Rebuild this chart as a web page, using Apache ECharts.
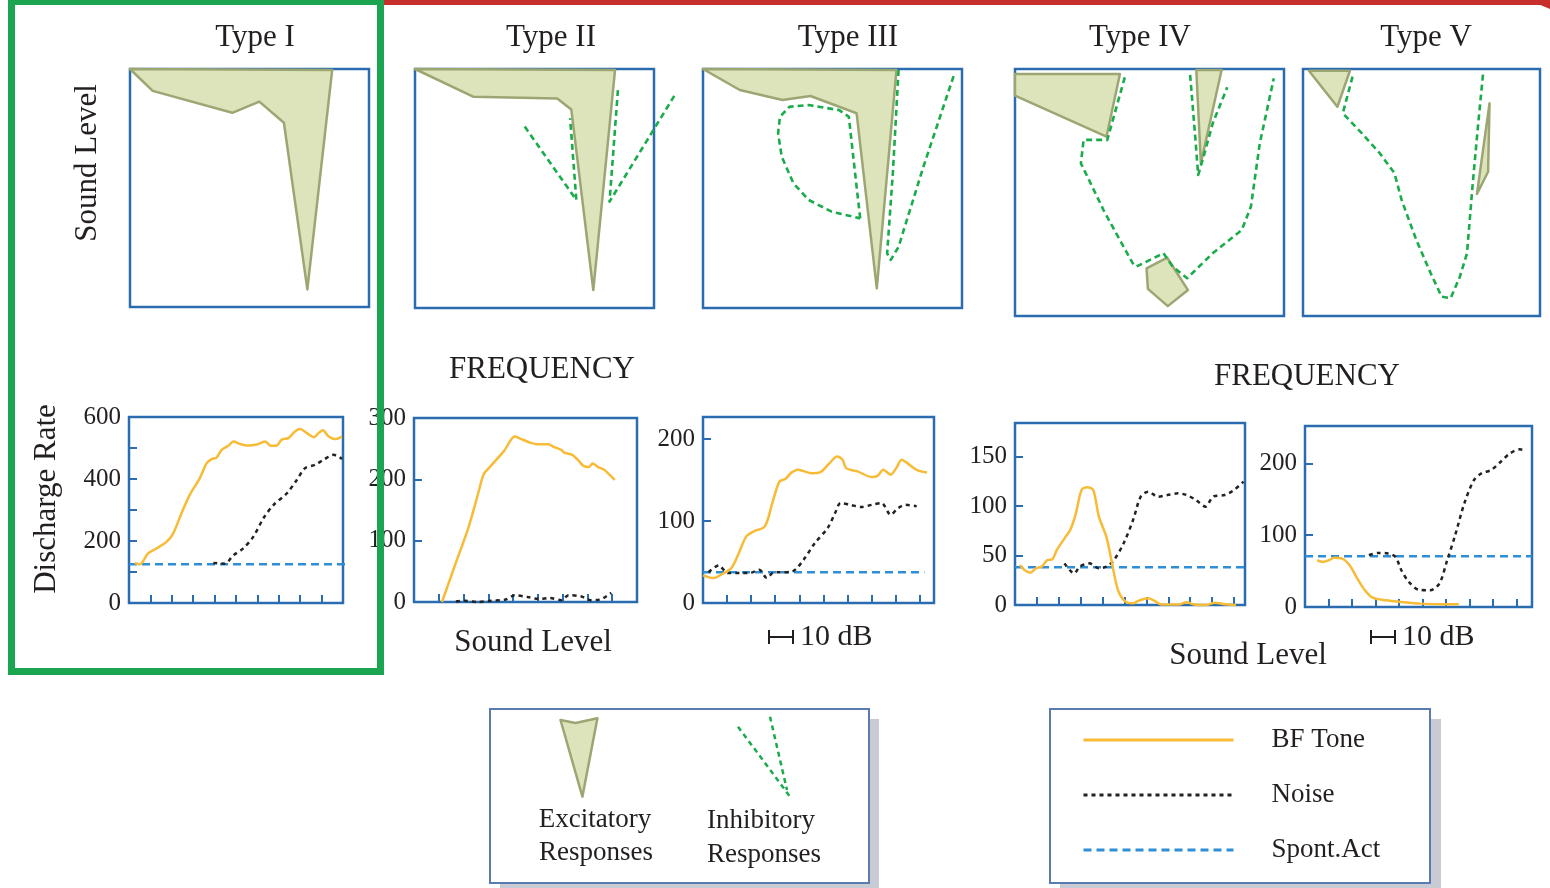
<!DOCTYPE html>
<html>
<head>
<meta charset="utf-8">
<script src="https://cdn.jsdelivr.net/npm/echarts@6/dist/echarts.min.js"></script>
<style>
html,body{margin:0;padding:0;background:#fff;}
#chart{width:1550px;height:888px;}
</style>
</head>
<body>
<div id="chart"></div>
<script>
// ---------- Titles / labels ----------
const typeTitles = ['Type I', 'Type II', 'Type III', 'Type IV', 'Type V'];
const legendNames = ['BF Tone', 'Noise', 'Spont.Act'];

// ---------- Response areas (x: frequency 0-100, y: sound level 0-100) ----------
const exc1 = [[0,100],[9.5,90.8],[42.8,81.6],[54.1,86.3],[64.4,77.4],[74.2,7.4],[84.6,99.6]];

const exc2 = [[0,100],[24.3,88.4],[59.5,87.7],[65.4,83.1],[74.6,7.5],[83.7,99.6]];
const inh2a = [[45.9,75.9],[67.5,45.2],[64.9,79.4]];
const inh2b = [[84.9,91.2],[81.4,44.5],[108.7,89.1]];

const exc3 = [[0,100],[14.2,91.2],[30.7,87.0],[41.5,88.7],[59.3,81.5],[67.1,8.2],[74.7,99.6]];
const inh3a = [[60.7,37.5],[59.3,50.8],[57.3,70.3],[56.3,80.0],[52.6,82.8],[40.8,84.9],[33.4,84.2],[29.7,80.0],[29.0,73.1],[30.4,63.3],[34.9,52.2],[40.8,45.2],[49.7,40.3],[60.7,37.5]];
const inh3b = [[75.5,99.6],[73.3,56.4],[71.1,22.9],[72.5,20.1],[75.5,25.6],[85.1,59.1],[96.9,97.5]];

const exc4a = [[0,98],[39,98],[34,72.6],[0,89.2]];
const exc4b = [[67.4,99.6],[76.8,99.6],[69.1,61.8]];
const exc4c = [[48.9,19.3],[56.6,23.6],[64.3,10.5],[56.8,4.0],[49.4,11.0]];
const inh4a = [[40.8,96.6],[34.3,71.3],[25.5,71.3],[24.5,61.8],[27.5,55.1],[32.9,42.9],[38.3,32.1],[43.8,21.3],[45.1,20.0],[55.2,25.4],[58.6,20.0],[64.0,15.3],[73.5,25.4],[84.3,34.8],[87.7,44.3],[91.0,69.9],[96.2,96.2]];
const inh4b = [[65.1,97.6],[66.7,76.6],[68.1,57.1],[70.1,64.5],[73.5,78.0],[78.9,92.6]];

const exc5a = [[2.5,99.3],[19.8,99.3],[14.5,84.7]];
const exc5b = [[78.7,86.1],[78.1,58.4],[73.4,49.4]];
const inh5 = [[20.9,96.9],[16.8,82.1],[24.8,74.0],[32.4,65.9],[38.6,57.8],[41.6,47.0],[47.8,30.8],[53.9,17.3],[58.5,7.8],[62.3,7.2],[66.2,15.9],[69.2,25.4],[71.5,52.3],[73.8,76.6],[76.1,99.3]];

// ---------- Rate-level functions (x: sound level steps, y: discharge rate) ----------
const tone1 = [[0.27,129],[0.5,125],[0.89,160],[1.28,176],[1.75,197],[2.06,224],[2.45,289],[2.84,349],[3.31,403],[3.63,451],[3.86,464],[4.09,469],[4.33,494],[4.64,507],[4.88,521],[5.19,513],[5.58,508],[5.97,511],[6.36,521],[6.63,507],[6.88,507],[7.14,527],[7.45,532],[7.77,554],[8.0,561],[8.31,548],[8.63,535],[8.86,548],[9.06,557],[9.33,537],[9.64,529],[9.95,537]];
const noise1 = [[3.94,129],[4.48,127],[4.88,154],[5.34,176],[5.81,214],[6.28,273],[6.75,316],[7.38,354],[7.84,397],[8.23,435],[8.7,446],[9.09,462],[9.56,478],[9.95,465]];
const spont1 = [[0,125],[10.1,125]];

const tone2 = [[1.13,0],[1.61,55],[2.21,123],[2.63,183],[2.81,208],[3.1,222],[3.63,246],[4.07,270],[4.37,265],[4.75,259],[5.04,257],[5.42,257],[5.64,253],[5.94,248],[6.09,243],[6.39,240],[6.61,232],[6.84,222],[7.06,220],[7.21,226],[7.43,220],[7.66,216],[7.88,208],[8.1,199]];
const noise2 = [[1.69,1],[2.06,2],[2.58,0],[3.1,2],[3.7,4],[4.07,11],[4.6,8],[5.04,5],[5.49,6.5],[5.94,3],[6.24,11],[6.76,9],[7.13,3],[7.51,4],[7.96,15]];

const tone3 = [[0,33.7],[0.42,30.5],[0.8,35.4],[1.18,42.7],[1.49,61],[1.8,81.3],[2.11,87.4],[2.57,93.5],[2.88,122],[3.18,148.4],[3.42,151.2],[3.65,158.5],[3.95,162.6],[4.49,158.5],[4.88,159.8],[5.26,170.7],[5.57,178.9],[5.8,174.8],[5.95,164.6],[6.42,160.6],[7.03,153.7],[7.26,155.3],[7.49,162.6],[7.8,156.5],[8.03,164.6],[8.26,174.8],[8.49,170.7],[8.88,162.6],[9.31,159.3]];
const noise3 = [[0.23,37.4],[0.65,45.9],[1.03,36.6],[1.57,36.6],[1.95,36.6],[2.34,40.7],[2.65,30.5],[2.95,37.4],[3.26,37.4],[3.72,38.6],[4.18,52.8],[4.65,73.2],[5.18,91.5],[5.49,109.8],[5.72,122],[6.11,119.9],[6.57,117.1],[7.03,119.9],[7.42,122],[7.8,107.7],[8.11,115.9],[8.42,119.9],[8.88,117.9]];
const spont3 = [[0,37.4],[9.2,37.4]];

const tone4 = [[0.23,40.4],[0.43,35.4],[0.7,32.7],[0.96,37.1],[1.22,38.8],[1.48,45.5],[1.7,46.2],[1.91,55.6],[2.26,67.4],[2.52,75.8],[2.78,92.7],[3.04,116.3],[3.3,119],[3.57,116.3],[3.83,89.3],[4.17,69.1],[4.43,42.1],[4.7,15.2],[5.04,3.4],[5.39,1.7],[5.65,4.4],[6.09,6.7],[6.35,4.4],[6.7,0.5],[7.48,0.5],[7.83,2.7],[8.17,0.5],[8.7,0],[9.13,2.4],[9.57,0.7],[10.09,0]];
const noise4 = [[2.26,42.1],[2.7,32],[2.96,38.8],[3.39,42.1],[3.83,37.1],[4.17,38.8],[4.52,45.5],[4.96,62.4],[5.39,85.9],[5.74,109.5],[6.09,114.6],[6.52,109.5],[6.96,111.2],[7.44,112.9],[7.83,111.2],[8.26,106.2],[8.7,99.4],[9.04,109.5],[9.57,111.2],[10,116.3],[10.43,124.7]];
const spont4 = [[0,38.1],[10.5,38.1]];

const tone5 = [[0.52,65.1],[0.76,62.8],[1.01,65.1],[1.25,68.4],[1.58,67.4],[1.9,58.1],[2.23,39.5],[2.55,23.3],[2.88,13],[3.45,9.3],[4.1,7],[4.91,4.7],[5.89,3.7],[6.54,3.7]];
const noise5 = [[2.72,72.1],[3.12,75.3],[3.53,74.4],[3.85,69.8],[4.1,51.2],[4.42,34.9],[4.83,24.2],[5.32,23.3],[5.72,32.6],[6.05,65.1],[6.37,97.7],[6.78,144.2],[7.19,176.7],[7.51,186],[7.92,190.7],[8.33,202.3],[8.73,214],[9.14,219.5],[9.3,218.6]];
const spont5 = [[0,70.7],[9.66,70.7]];

// Axis ranges for rate panels
const rateXMax = [10, 9, 9.6, 10.5, 9.66];
const rateYMax = [600, 300, 227, 184, 252];
const rateYInterval = [100, 100, 100, 50, 100];
const rateYLabelStep = [200, 100, 100, 50, 100];

// ---------- Styles ----------
const FONT = '"Liberation Serif", "Times New Roman", serif';
const TXT = '#231f20';
const BOX = '#2b6cb0';
const EXC_FILL = '#dde4bb', EXC_STROKE = '#9ca673';
const INH = '#1aab4b';
const TONE = '#f7bb36', NOISE = '#222222', SPONT = '#2f8fd6';

const topGrids = [
  {left:130, top:69, width:239, height:238},
  {left:415, top:69, width:239, height:239},
  {left:703, top:69, width:259, height:239},
  {left:1015, top:69, width:269, height:247},
  {left:1303, top:69, width:237, height:247}
];
const botGrids = [
  {left:129, top:417, width:214, height:186},
  {left:414, top:418, width:223, height:184},
  {left:703, top:417, width:231, height:186},
  {left:1015, top:423, width:230, height:182},
  {left:1305, top:426, width:227, height:181}
];

const grids = [], xAxes = [], yAxes = [], series = [];
topGrids.concat(botGrids).forEach(g => grids.push(Object.assign({show:true, borderColor:BOX, borderWidth:2.5, backgroundColor:'transparent'}, g)));

for (let i = 0; i < 5; i++) {
  xAxes.push({gridIndex:i, type:'value', min:0, max:100, show:false});
  yAxes.push({gridIndex:i, type:'value', min:0, max:100, show:false});
}
for (let i = 0; i < 5; i++) {
  const gi = 5 + i;
  xAxes.push({gridIndex:gi, type:'value', min:0, max:rateXMax[i], interval:1,
    axisLine:{show:false}, splitLine:{show:false}, axisLabel:{show:false},
    axisTick:{show:true, inside:true, length:8, lineStyle:{color:BOX, width:2}}});
  const step = rateYLabelStep[i];
  yAxes.push({gridIndex:gi, type:'value', min:0, max:rateYMax[i], interval:rateYInterval[i],
    axisLine:{show:false}, splitLine:{show:false},
    axisTick:{show:true, inside:true, length:8, lineStyle:{color:BOX, width:2}},
    axisLabel:{show:true, margin:8, color:TXT, fontFamily:FONT, fontSize:25,
      showMinLabel:true, showMaxLabel:true,
      formatter: v => (Math.abs(v % step) < 1e-6 ? String(v) : '')}});
}

function poly(idx, pts) {
  series.push({type:'custom', xAxisIndex:idx, yAxisIndex:idx, clip:false, silent:true, z:3,
    data:[[0,0]],
    renderItem: function(params, api) {
      return {type:'polygon', shape:{points: pts.map(p => api.coord(p))},
        style:{fill:EXC_FILL, stroke:EXC_STROKE, lineWidth:2.5, lineJoin:'round'}};
    }});
}
function inh(idx, pts) {
  series.push({type:'custom', xAxisIndex:idx, yAxisIndex:idx, clip:false, silent:true, z:4,
    data:[[0,0]],
    renderItem: function(params, api) {
      return {type:'polyline', shape:{points: pts.map(p => api.coord(p))},
        style:{fill:null, stroke:INH, lineWidth:2.6, lineDash:[6,4], lineJoin:'round'}};
    }});
}
function rate(i, name, pts) {
  const gi = 5 + i;
  const st = {
    'BF Tone': {color:TONE, width:2.5, type:'solid'},
    'Noise': {color:NOISE, width:2.5, type:[4,4]},
    'Spont.Act': {color:SPONT, width:2.5, type:[8,5]}
  }[name];
  series.push({type:'line', name:name, xAxisIndex:gi, yAxisIndex:gi, data:pts, symbol:'none', silent:true,
    smooth: name === 'Spont.Act' ? false : 0.3, clip:false, color:st.color, lineStyle:st,
    z: name === 'BF Tone' ? 4 : 3});
}

poly(0, exc1);
poly(1, exc2); inh(1, inh2a); inh(1, inh2b);
poly(2, exc3); inh(2, inh3a); inh(2, inh3b);
poly(3, exc4a); poly(3, exc4b); poly(3, exc4c); inh(3, inh4a); inh(3, inh4b);
poly(4, exc5a); poly(4, exc5b); inh(4, inh5);

rate(0, 'Spont.Act', spont1); rate(0, 'Noise', noise1); rate(0, 'BF Tone', tone1);
rate(1, 'Noise', noise2); rate(1, 'BF Tone', tone2);
rate(2, 'Spont.Act', spont3); rate(2, 'Noise', noise3); rate(2, 'BF Tone', tone3);
rate(3, 'Spont.Act', spont4); rate(3, 'Noise', noise4); rate(3, 'BF Tone', tone4);
rate(4, 'Spont.Act', spont5); rate(4, 'Noise', noise5); rate(4, 'BF Tone', tone5);

function txt(x, y, text, size, opts) {
  return Object.assign({type:'text', x:x, y:y, z:10,
    style:{text:text, font: size + 'px ' + FONT, fill:TXT, textAlign:'center', textVerticalAlign:'middle', align:'center', verticalAlign:'middle'}}, opts || {});
}
function ltxt(x, y, text, size) {
  return {type:'text', x:x, y:y, z:10,
    style:{text:text, font: size + 'px ' + FONT, fill:TXT, textAlign:'left', align:'left', textVerticalAlign:'middle', verticalAlign:'middle'}};
}

const titleX = [255, 551, 848, 1140, 1426];
const graphics = [
  // green frame
  {type:'rect', z:1, shape:{x:11.5, y:1.5, width:369, height:670}, style:{fill:'none', stroke:'#1ca551', lineWidth:7}},
  // red line
  {type:'rect', z:1, shape:{x:384, y:0, width:1166, height:5}, style:{fill:'#c62f2b'}},
  {type:'polygon', z:1, shape:{points:[[1538,4],[1550,4],[1550,9]]}, style:{fill:'#c62f2b'}},
  // texts
  txt(88, 163, 'Sound Level', 31, {rotation: Math.PI/2}),
  txt(47, 499, 'Discharge Rate', 31, {rotation: Math.PI/2}),
  txt(542, 370, 'FREQUENCY', 31),
  txt(1307, 377, 'FREQUENCY', 31),
  txt(533, 643, 'Sound Level', 31),
  txt(1248, 656, 'Sound Level', 31),
  // scale bars
  {type:'polyline', z:10, shape:{points:[[769,630],[769,644]]}, style:{stroke:TXT, lineWidth:2}},
  {type:'polyline', z:10, shape:{points:[[769,637],[793,637]]}, style:{stroke:TXT, lineWidth:2}},
  {type:'polyline', z:10, shape:{points:[[793,630],[793,644]]}, style:{stroke:TXT, lineWidth:2}},
  ltxt(800, 637, '10 dB', 30),
  {type:'polyline', z:10, shape:{points:[[1371,630],[1371,644]]}, style:{stroke:TXT, lineWidth:2}},
  {type:'polyline', z:10, shape:{points:[[1371,637],[1395,637]]}, style:{stroke:TXT, lineWidth:2}},
  {type:'polyline', z:10, shape:{points:[[1395,630],[1395,644]]}, style:{stroke:TXT, lineWidth:2}},
  ltxt(1402, 637, '10 dB', 30),
  // legend box 1
  {type:'rect', z:1, shape:{x:500, y:719, width:379, height:170}, style:{fill:'#c9cbd4'}},
  {type:'rect', z:2, shape:{x:490, y:709, width:379, height:174}, style:{fill:'#ffffff', stroke:'#5a7bb0', lineWidth:2}},
  {type:'polygon', z:5, shape:{points:[[560.5,720],[575.5,723],[597.4,718.3],[582.4,796.7]]}, style:{fill:EXC_FILL, stroke:EXC_STROKE, lineWidth:2.5, lineJoin:'round'}},
  {type:'polyline', z:5, shape:{points:[[738,726.7],[790.5,797.3]]}, style:{stroke:INH, lineWidth:2.5, lineDash:[5,4]}},
  {type:'polyline', z:5, shape:{points:[[770,716.7],[787,790]]}, style:{stroke:INH, lineWidth:2.5, lineDash:[5,4]}},
  txt(595, 820, 'Excitatory', 27),
  txt(596, 853, 'Responses', 27),
  txt(761, 821, 'Inhibitory', 27),
  txt(764, 855, 'Responses', 27),
  // legend box 2 frame
  {type:'rect', z:1, shape:{x:1060, y:719, width:381, height:170}, style:{fill:'#c9cbd4'}},
  {type:'rect', z:2, shape:{x:1050, y:709, width:380, height:174}, style:{fill:'#ffffff', stroke:'#5a7bb0', lineWidth:2}}
];
typeTitles.forEach((t, i) => graphics.push(txt(titleX[i], 38, t, 31)));

const chart = echarts.init(document.getElementById('chart'), null, {renderer:'canvas'});
chart.setOption({
  backgroundColor:'#ffffff',
  animation:false,
  grid: grids,
  xAxis: xAxes,
  yAxis: yAxes,
  series: series,
  legend: {
    data: legendNames, orient:'vertical', left:1082, top:725, padding:0,
    itemWidth:150, itemHeight:14, itemGap:25, selectedMode:false, z:20,
    itemStyle:{opacity:0, borderWidth:0},
    lineStyle:{width:3},
    textStyle:{fontFamily:FONT, fontSize:27, color:TXT, lineHeight:30, padding:[0,0,0,33]}
  },
  graphic: graphics
});
</script>
</body>
</html>
